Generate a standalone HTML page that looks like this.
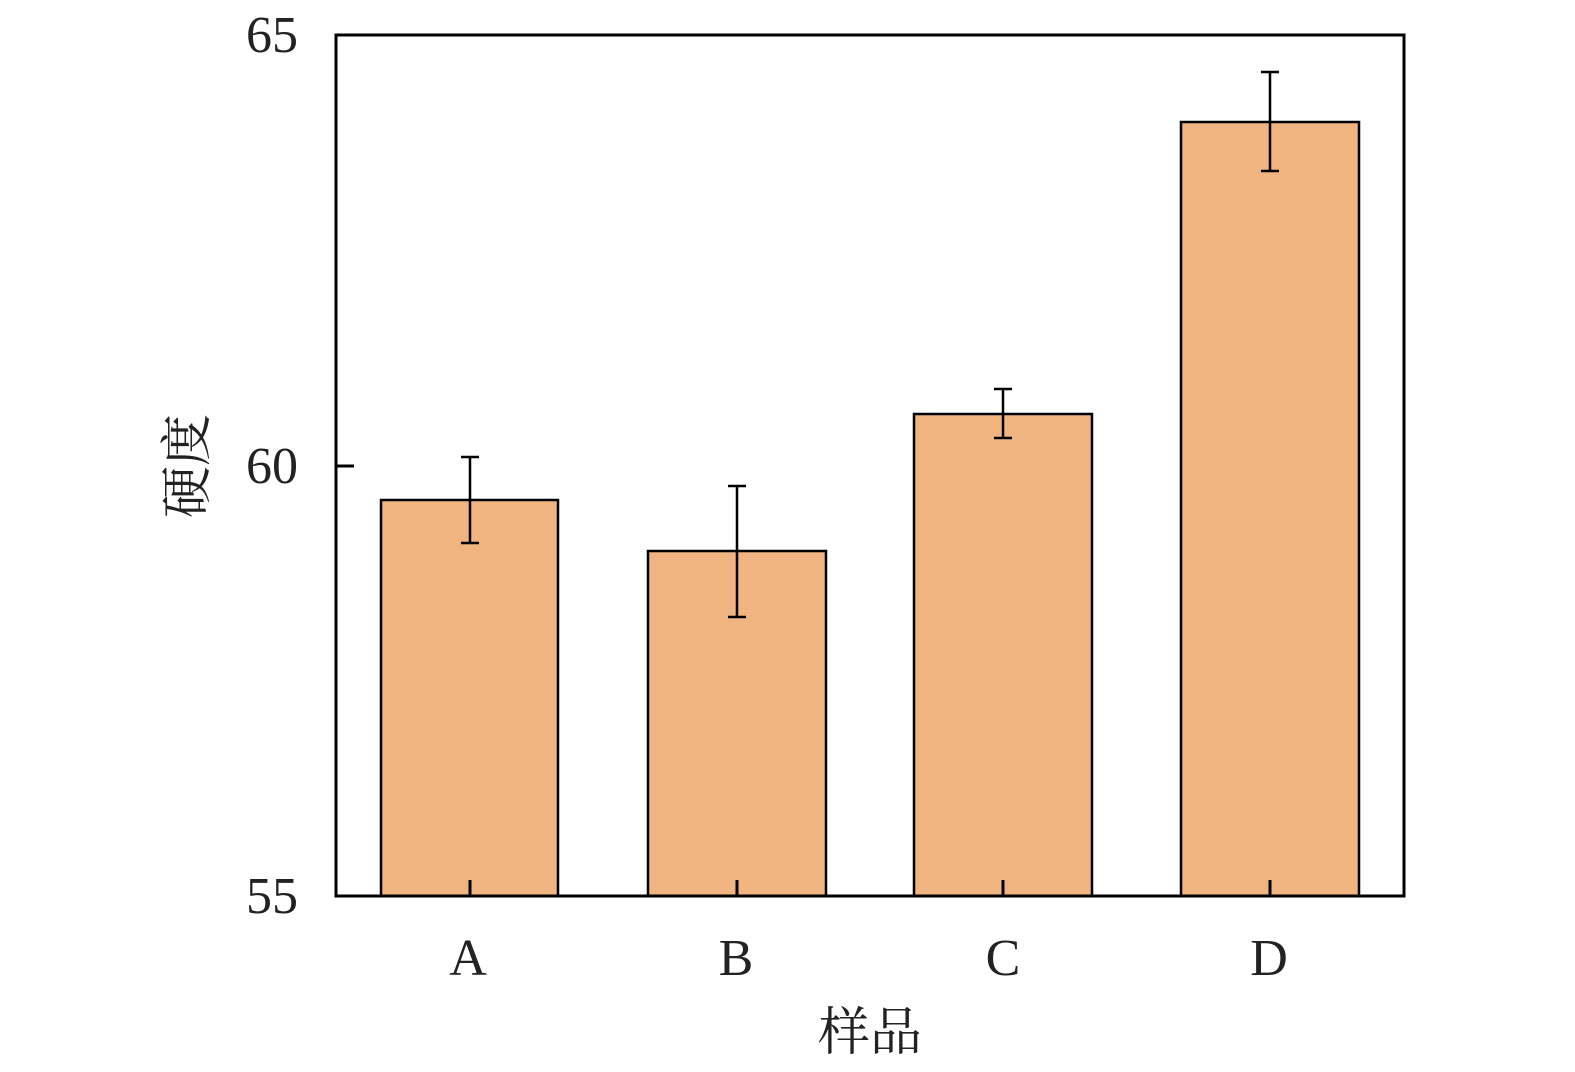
<!DOCTYPE html>
<html><head><meta charset="utf-8"><style>body{margin:0;background:#fff}</style></head>
<body>
<svg width="1575" height="1067" viewBox="0 0 1575 1067" xmlns="http://www.w3.org/2000/svg">
<rect x="0" y="0" width="1575" height="1067" fill="#fff"/>
<g fill="#efb47f" stroke="#000" stroke-width="2.5">
<rect x="381" y="500" width="177" height="396"/>
<rect x="648" y="551" width="178" height="345"/>
<rect x="914" y="414" width="178" height="482"/>
<rect x="1181" y="122" width="178" height="774"/>
</g>
<g stroke="#000" stroke-width="2.5">
<line x1="470" y1="457" x2="470" y2="543"/><line x1="461" y1="457" x2="479" y2="457"/><line x1="461" y1="543" x2="479" y2="543"/>
<line x1="737" y1="486" x2="737" y2="617"/><line x1="728" y1="486" x2="746" y2="486"/><line x1="728" y1="617" x2="746" y2="617"/>
<line x1="1003" y1="389" x2="1003" y2="438"/><line x1="994" y1="389" x2="1012" y2="389"/><line x1="994" y1="438" x2="1012" y2="438"/>
<line x1="1270" y1="72" x2="1270" y2="171"/><line x1="1261" y1="72" x2="1279" y2="72"/><line x1="1261" y1="171" x2="1279" y2="171"/>
</g>
<rect x="336" y="35" width="1068" height="861" fill="none" stroke="#000" stroke-width="3"/>
<g stroke="#000" stroke-width="3">
<line x1="336" y1="466" x2="354" y2="466"/>
<line x1="470" y1="896" x2="470" y2="880"/>
<line x1="737" y1="896" x2="737" y2="880"/>
<line x1="1003" y1="896" x2="1003" y2="880"/>
<line x1="1270" y1="896" x2="1270" y2="880"/>
</g>
<g font-family="Liberation Serif, serif" font-size="52" fill="#222" text-anchor="end">
<text x="298" y="52">65</text>
<text x="298" y="483">60</text>
<text x="298" y="913">55</text>
</g>
<g font-family="Liberation Serif, serif" font-size="52" fill="#222" text-anchor="middle">
<text x="468" y="975">A</text>
<text x="736" y="975">B</text>
<text x="1003" y="975">C</text>
<text x="1269" y="975">D</text>
</g>
<text x="870" y="1050" font-family="Liberation Serif, 'Noto Serif CJK SC', serif" font-size="52" fill="#222" text-anchor="middle">样品</text>
<text transform="translate(205,466) rotate(-90)" font-family="Liberation Serif, 'Noto Serif CJK SC', serif" font-size="52" fill="#222" text-anchor="middle">硬度</text>
</svg>
</body></html>
